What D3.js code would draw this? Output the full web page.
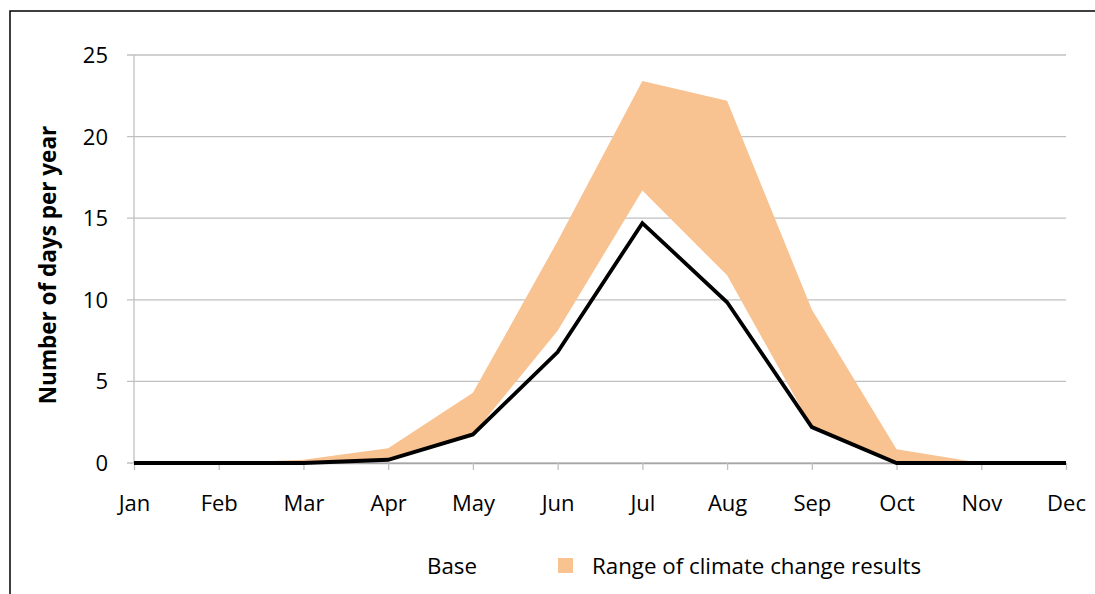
<!DOCTYPE html>
<html>
<head>
<meta charset="utf-8">
<script src="https://cdn.jsdelivr.net/npm/d3@7"></script>
<style>
  body { margin: 0; background: #fff; }
  svg { font-family: "Open Sans", sans-serif; }
</style>
</head>
<body>
<svg id="chart"></svg>
<script>
const width = 1095
const height = 594

const months = ['Jan', 'Feb', 'Mar', 'Apr', 'May', 'Jun', 'Jul', 'Aug', 'Sep', 'Oct', 'Nov', 'Dec']
const base = [0, 0, 0, 0.2, 1.75, 6.8, 14.7, 9.85, 2.2, 0, 0, 0]
const rangeLow = [0, 0, 0, 0.2, 1.75, 8.1, 16.7, 11.5, 2.2, 0, 0, 0]
const rangeHigh = [0, 0, 0.2, 0.9, 4.3, 13.6, 23.4, 22.2, 9.4, 0.85, 0, 0]
const yTicks = [0, 5, 10, 15, 20, 25]

var svg = d3.select('#chart')
    .attr('width', width)
    .attr('height', height);

// outer frame (only left and top edges are visible)
svg.append('path')
    .attr('d', 'M10,' + height + 'V11H' + width)
    .attr('fill', 'none')
    .attr('stroke', 'black')
    .attr('stroke-width', 1.5);

var x = d3.scalePoint()
    .domain(months)
    .range([134, 1066]);

var y = d3.scaleLinear()
    .domain([0, 25])
    .range([463, 55]);

// gridlines
svg.append('g')
    .selectAll('line')
    .data(yTicks)
    .enter()
    .append('line')
    .attr('x1', 127)
    .attr('x2', 1066)
    .attr('y1', d => y(d))
    .attr('y2', d => y(d))
    .attr('stroke', '#c0c0c0')
    .attr('stroke-width', 1.3);

// y axis line
svg.append('line')
    .attr('x1', 134).attr('x2', 134)
    .attr('y1', y(25)).attr('y2', y(0))
    .attr('stroke', '#c0c0c0')
    .attr('stroke-width', 1.3);

// y tick labels
svg.append('g')
    .selectAll('text')
    .data(yTicks)
    .enter()
    .append('text')
    .attr('x', 108)
    .attr('y', d => y(d))
    .attr('dy', '0.36em')
    .attr('text-anchor', 'end')
    .attr('font-size', 22)
    .text(d => d);

// range band
var area = d3.area()
    .x((d, i) => x(months[i]))
    .y0((d, i) => y(rangeLow[i]))
    .y1(d => y(d));

svg.append('path')
    .datum(rangeHigh)
    .attr('d', area)
    .attr('fill', '#f9c291');

// x axis
var xAxis = svg.append('g')
    .attr('transform', `translate(0,${y(0)})`)
    .call(d3.axisBottom(x).tickSize(7).tickPadding(25).tickSizeOuter(0));
xAxis.select('.domain').attr('stroke', '#a6a6a6').attr('stroke-width', 1.3);
xAxis.selectAll('.tick line').attr('stroke', '#c0c0c0').attr('stroke-width', 1.3);
xAxis.selectAll('text')
    .attr('font-size', 22)
    .attr('font-family', '"Open Sans", sans-serif')
    .attr('fill', 'black');

// base line
var line = d3.line()
    .x((d, i) => x(months[i]))
    .y(d => y(d));

svg.append('path')
    .datum(base)
    .attr('d', line)
    .attr('fill', 'none')
    .attr('stroke', 'black')
    .attr('stroke-width', 3.8);

// y axis title
svg.append('text')
    .attr('transform', 'translate(56,265) rotate(-90)')
    .attr('text-anchor', 'middle')
    .attr('font-size', 22.5)
    .attr('font-weight', 'bold')
    .text('Number of days per year');

// legend
svg.append('text')
    .attr('x', 427).attr('y', 574)
    .attr('font-size', 22.3)
    .text('Base');
svg.append('rect')
    .attr('x', 558).attr('y', 558)
    .attr('width', 15).attr('height', 15)
    .attr('fill', '#f9c291');
svg.append('text')
    .attr('x', 592).attr('y', 574)
    .attr('font-size', 22.3)
    .text('Range of climate change results');
</script>
</body>
</html>
